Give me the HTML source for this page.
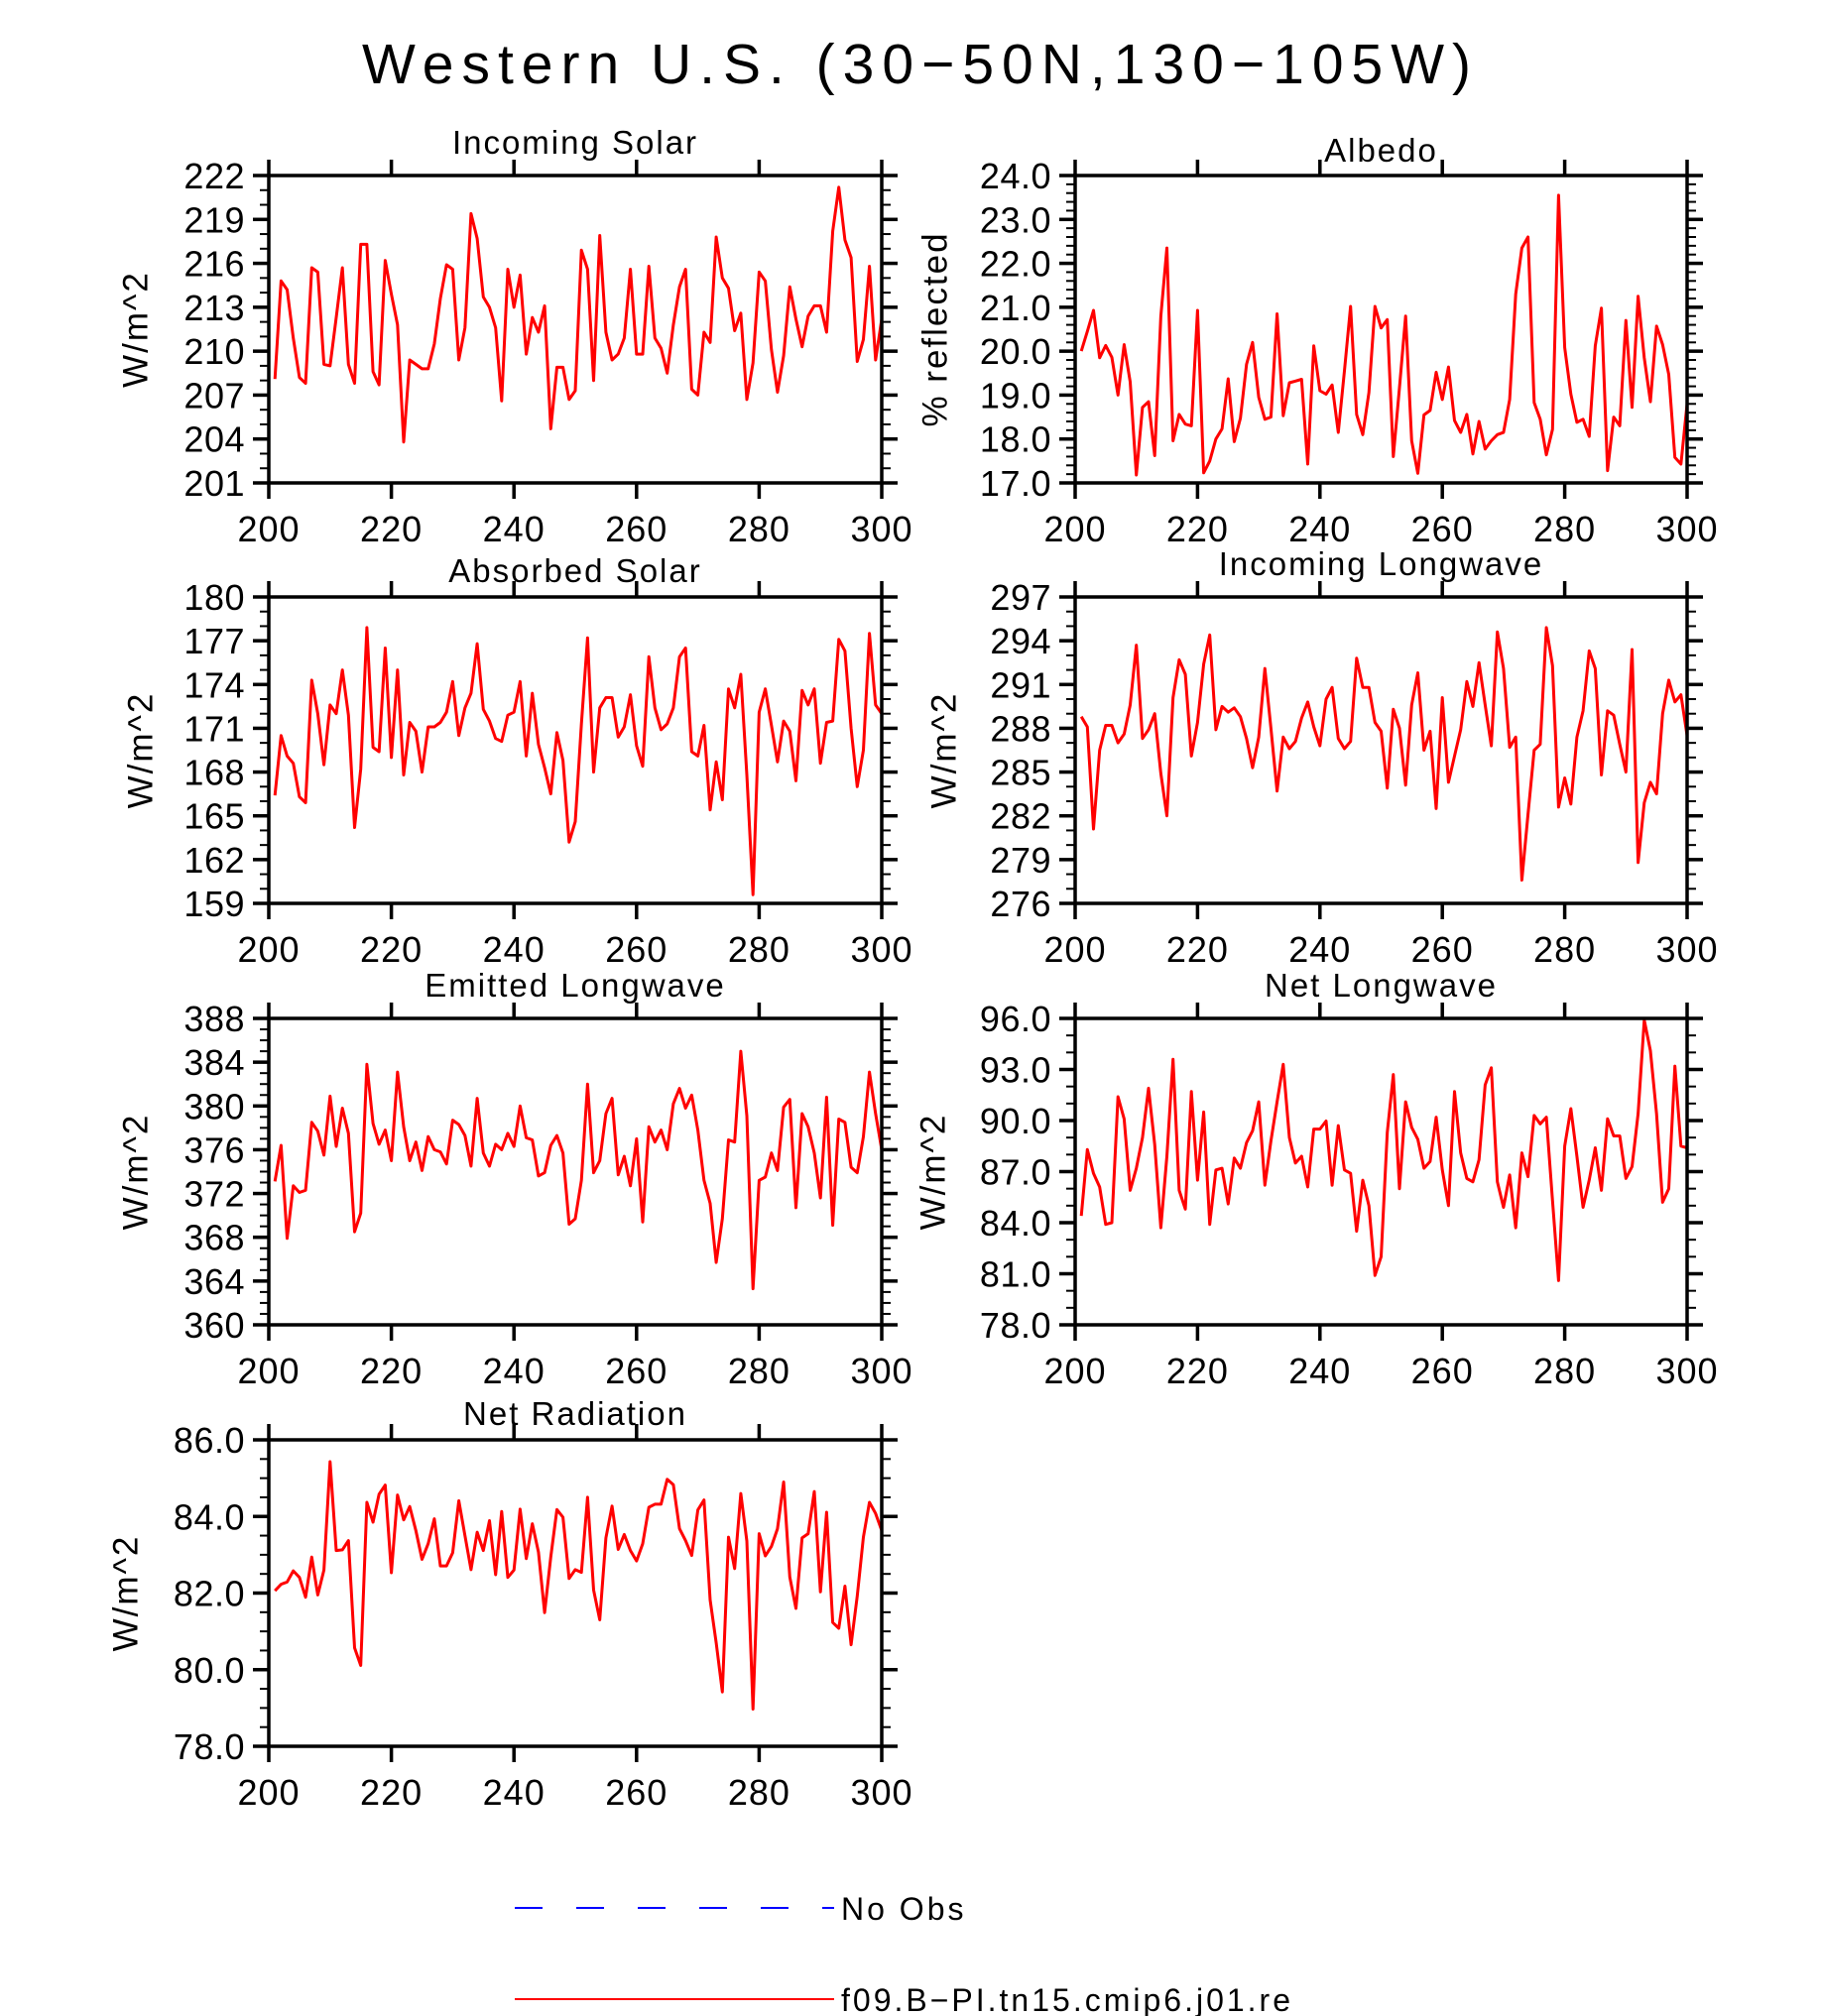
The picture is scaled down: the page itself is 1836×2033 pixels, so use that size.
<!DOCTYPE html>
<html><head><meta charset="utf-8"><style>
html,body{margin:0;padding:0;background:#fff;}
svg{display:block;}
text{font-family:"Liberation Sans",sans-serif;fill:#000;}
</style></head><body>
<svg id="chart" width="1836" height="2033" viewBox="0 0 1836 2033" xmlns="http://www.w3.org/2000/svg">
<text x="928" y="84" font-size="57" text-anchor="middle" letter-spacing="8">Western U.S. (30−50N,130−105W)</text>
<g>
<line x1="519" y1="1924" x2="841" y2="1924" stroke="#0000ff" stroke-width="2" stroke-dasharray="28,34"/>
<text x="848" y="1936" font-size="32" letter-spacing="3">No Obs</text>
<line x1="519" y1="2016" x2="841" y2="2016" stroke="#ff0000" stroke-width="2"/>
<text x="848" y="2028" font-size="32" letter-spacing="3">f09.B−PI.tn15.cmip6.j01.re</text>
</g>
</svg>
<script>
const incomingSolar=[208.1,214.8,214.2,210.9,208.2,207.8,215.7,215.4,209.1,209.0,212.3,215.7,209.1,207.8,217.3,217.3,208.6,207.7,216.2,213.9,211.8,203.8,209.4,209.1,208.8,208.8,210.5,213.6,215.9,215.6,209.4,211.6,219.4,217.7,213.7,213.0,211.6,206.6,215.6,213.0,215.2,209.8,212.3,211.3,213.1,204.7,208.9,208.9,206.7,207.3,216.9,215.6,208.0,217.9,211.3,209.4,209.8,210.9,215.6,209.8,209.8,215.8,210.9,210.2,208.5,211.8,214.4,215.6,207.4,207.0,211.3,210.6,217.8,215.0,214.3,211.4,212.6,206.7,209.2,215.4,214.8,210.1,207.2,209.7,214.4,212.2,210.3,212.4,213.1,213.1,211.3,218.2,221.2,217.6,216.4,209.3,210.8,215.8,209.4,212.2];
const albedo=[20.0,20.45,20.93,19.85,20.13,19.86,19.0,20.15,19.3,17.18,18.72,18.85,17.62,20.8,22.35,17.96,18.56,18.34,18.3,20.93,17.23,17.5,18.0,18.23,19.37,17.94,18.47,19.7,20.2,18.95,18.45,18.5,20.85,18.53,19.28,19.32,19.36,17.43,20.12,19.1,19.02,19.23,18.15,19.55,21.02,18.56,18.1,19.06,21.02,20.53,20.72,17.6,19.17,20.8,17.96,17.22,18.55,18.65,19.52,18.9,19.64,18.42,18.15,18.56,17.66,18.4,17.77,17.96,18.1,18.15,18.9,21.3,22.35,22.6,18.83,18.45,17.64,18.22,23.55,20.08,19.02,18.38,18.45,18.06,20.12,20.98,17.28,18.5,18.3,20.7,18.72,21.25,19.85,18.85,20.57,20.15,19.47,17.58,17.43,18.8];
const absorbedSolar=[166.4,170.5,169.1,168.6,166.3,165.9,174.3,172.0,168.5,172.6,172.0,175.0,171.9,164.2,168.2,177.9,169.7,169.4,176.5,169.0,175.0,167.8,171.4,170.8,168.0,171.1,171.1,171.4,172.1,174.2,170.5,172.4,173.4,176.8,172.3,171.5,170.3,170.1,171.9,172.1,174.2,169.1,173.4,169.9,168.3,166.5,170.7,168.8,163.2,164.6,171.3,177.2,168.0,172.4,173.1,173.1,170.4,171.1,173.3,169.8,168.4,175.9,172.4,170.9,171.3,172.4,175.9,176.5,169.4,169.1,171.2,165.4,168.7,166.1,173.7,172.4,174.7,167.8,159.6,172.1,173.7,171.2,168.7,171.5,170.8,167.4,173.6,172.6,173.7,168.6,171.4,171.5,177.1,176.3,171.0,167.0,169.5,177.5,172.6,172.0];
const incomingLongwave=[288.8,288.1,281.1,286.5,288.2,288.2,287.0,287.6,289.6,293.7,287.3,287.9,289.0,284.9,282.0,290.1,292.7,291.7,286.1,288.4,292.4,294.4,287.9,289.5,289.1,289.4,288.8,287.3,285.3,287.4,292.1,288.0,283.7,287.4,286.6,287.1,288.7,289.8,288.1,286.8,290.0,290.8,287.3,286.6,287.1,292.8,290.8,290.8,288.4,287.8,283.9,289.3,288.0,284.1,289.6,291.8,286.5,287.8,282.5,290.1,284.3,286.1,287.9,291.2,289.5,292.5,289.6,286.8,294.6,292.1,286.7,287.4,277.6,282.1,286.5,286.9,294.9,292.3,282.6,284.6,282.8,287.4,289.2,293.3,292.1,284.8,289.2,288.9,286.9,285.0,293.4,278.8,282.9,284.3,283.5,289.0,291.3,289.8,290.3,287.5];
const emittedLongwave=[373.1,376.4,367.9,372.7,372.1,372.3,378.5,377.7,375.5,380.9,376.3,379.8,377.5,368.5,370.2,383.8,378.4,376.5,377.8,375.0,383.1,378.1,375.0,376.7,374.1,377.2,376.0,375.8,374.7,378.7,378.3,377.3,374.5,380.7,375.7,374.5,376.5,376.0,377.5,376.3,380.0,377.1,376.9,373.6,373.9,376.4,377.3,375.7,369.2,369.7,373.2,382.0,373.9,375.0,379.3,380.7,373.7,375.4,372.7,377.0,369.4,378.1,376.7,377.8,376.0,380.2,381.6,379.8,381.0,377.8,373.2,371.1,365.7,369.7,376.9,376.7,385.0,379.1,363.3,373.2,373.5,375.7,374.1,379.9,380.6,370.7,379.3,378.1,375.7,371.6,380.8,369.1,378.8,378.5,374.4,373.9,377.2,383.1,379.3,376.0];
const netLongwave=[84.4,88.3,86.9,86.1,83.9,84.0,91.4,90.1,85.9,87.2,89.0,91.9,88.6,83.7,87.9,93.6,85.9,84.8,91.7,86.5,90.5,83.9,87.1,87.2,85.1,87.8,87.2,88.7,89.4,91.1,86.2,88.8,91.1,93.3,89.0,87.5,87.9,86.1,89.5,89.5,89.97,86.2,89.7,87.1,86.9,83.5,86.5,85.0,80.9,82.0,89.3,92.7,86.0,91.1,89.6,88.9,87.2,87.6,90.2,87.1,85.0,91.7,88.1,86.6,86.4,87.7,92.1,93.1,86.4,84.9,86.8,83.7,88.1,86.7,90.3,89.8,90.2,85.3,80.6,88.5,90.7,87.9,84.9,86.5,88.4,85.9,90.1,89.1,89.1,86.6,87.3,90.4,95.9,94.1,90.4,85.2,86.0,93.2,88.5,88.4];
const netRadiation=[82.06,82.23,82.29,82.58,82.41,81.89,82.94,81.95,82.6,85.43,83.11,83.13,83.37,80.57,80.11,84.37,83.85,84.58,84.82,82.53,84.56,83.91,84.26,83.63,82.88,83.29,83.94,82.71,82.71,83.05,84.41,83.5,82.61,83.59,83.11,83.89,82.48,84.13,82.41,82.6,84.19,82.9,83.81,83.07,81.49,82.94,84.18,83.98,82.38,82.61,82.54,84.5,82.08,81.3,83.44,84.27,83.14,83.53,83.11,82.84,83.29,84.24,84.32,84.32,84.97,84.83,83.68,83.37,82.98,84.17,84.43,81.82,80.7,79.42,83.46,82.64,84.6,83.36,78.97,83.55,82.97,83.22,83.68,84.9,82.42,81.6,83.44,83.55,84.65,82.03,84.11,81.23,81.08,82.18,80.65,81.92,83.46,84.37,84.08,83.63];
const xTickLabels=["200","220","240","260","280","300"];
const tickIncomingSolar=["201","204","207","210","213","216","219","222"];
const tickAlbedo=["17.0","18.0","19.0","20.0","21.0","22.0","23.0","24.0"];
const tickAbsorbed=["159","162","165","168","171","174","177","180"];
const tickIncomingLW=["276","279","282","285","288","291","294","297"];
const tickEmitted=["360","364","368","372","376","380","384","388"];
const tickNetLW=["78.0","81.0","84.0","87.0","90.0","93.0","96.0"];
const tickNetRad=["78.0","80.0","82.0","84.0","86.0"];
const years=[];for(let y=201;y<=300;y++)years.push(y);

const NS="http://www.w3.org/2000/svg";
const svg=document.getElementById('chart');
function mk(tag,attrs,parent){const e=document.createElementNS(NS,tag);for(const k in attrs)e.setAttribute(k,attrs[k]);(parent||svg).appendChild(e);return e;}

const LX=[271,889],RX=[1084,1701];
const panels=[
 {name:'incoming-solar',title:'Incoming Solar',yt:'W/m^2',xr:LX,yr:[177,487],ticks:tickIncomingSolar,minor:3,data:incomingSolar,ty:143,ytx:137},
 {name:'albedo',title:'Albedo',yt:'% reflected',xr:RX,yr:[177,487],ticks:tickAlbedo,minor:5,data:albedo,ty:151,ytx:943},
 {name:'absorbed-solar',title:'Absorbed Solar',yt:'W/m^2',xr:LX,yr:[602,911],ticks:tickAbsorbed,minor:3,data:absorbedSolar,ty:575,ytx:142},
 {name:'incoming-longwave',title:'Incoming Longwave',yt:'W/m^2',xr:RX,yr:[602,911],ticks:tickIncomingLW,minor:3,data:incomingLongwave,ty:568,ytx:952},
 {name:'emitted-longwave',title:'Emitted Longwave',yt:'W/m^2',xr:LX,yr:[1027,1336],ticks:tickEmitted,minor:4,data:emittedLongwave,ty:993,ytx:137},
 {name:'net-longwave',title:'Net Longwave',yt:'W/m^2',xr:RX,yr:[1027,1336],ticks:tickNetLW,minor:3,data:netLongwave,ty:993,ytx:941},
 {name:'net-radiation',title:'Net Radiation',yt:'W/m^2',xr:LX,yr:[1452,1761],ticks:tickNetRad,minor:4,data:netRadiation,ty:1425,ytx:127}
];

panels.forEach(p=>{
 const g=mk('g',{});
 
 
 const [x0,x1]=p.xr,[y0,y1]=p.yr;
 const tv=p.ticks.map(Number),vmin=tv[0],vmax=tv[tv.length-1];
 const xs=v=>x0+(v-200)/100*(x1-x0);
 const ys=v=>y1-(v-vmin)/(vmax-vmin)*(y1-y0);
 let d='';
 p.data.forEach((v,i)=>{d+=(i?'L':'M')+xs(years[i]).toFixed(1)+','+ys(v).toFixed(1);});
 const path=mk('path',{d:d,fill:'none',stroke:'#ff0000','stroke-width':3,'stroke-linejoin':'round'},g);
 
 
 const fr=mk('rect',{x:x0,y:y0,width:x1-x0,height:y1-y0,fill:'none',stroke:'#000','stroke-width':3.5},g);
 
 
 const step=(vmax-vmin)/(tv.length-1);
 for(let k=0;k<tv.length;k++){
  const y=ys(tv[k]);
  mk('line',{x1:x0-16,y1:y,x2:x0,y2:y,stroke:'#000','stroke-width':3.5},g);
  mk('line',{x1:x1,y1:y,x2:x1+16,y2:y,stroke:'#000','stroke-width':3.5},g);
  const t=mk('text',{x:x0-24,y:y+13,'font-size':36,'text-anchor':'end','letter-spacing':0.5},g);
  t.textContent=p.ticks[k];
  
  
  if(k<tv.length-1){for(let m=1;m<p.minor;m++){const ym=ys(tv[k]+step*m/p.minor);
   mk('line',{x1:x0-9,y1:ym,x2:x0,y2:ym,stroke:'#000','stroke-width':2},g);
   mk('line',{x1:x1,y1:ym,x2:x1+9,y2:ym,stroke:'#000','stroke-width':2},g);}}
 }
 xTickLabels.forEach(s=>{const x=xs(Number(s));
  mk('line',{x1:x,y1:y0-16,x2:x,y2:y0,stroke:'#000','stroke-width':3.5},g);
  mk('line',{x1:x,y1:y1,x2:x,y2:y1+16,stroke:'#000','stroke-width':3.5},g);
  const t=mk('text',{x:x,y:y1+59,'font-size':36,'text-anchor':'middle','letter-spacing':1},g);
  t.textContent=s;
  
  
 });
 const tt=mk('text',{x:(x0+x1)/2,y:p.ty+12,'font-size':33,'text-anchor':'middle','letter-spacing':2},g);
 tt.textContent=p.title;
 
 
 const cy=(y0+y1)/2;
 const yt=mk('text',{x:p.ytx,y:cy,'font-size':35,'text-anchor':'middle','dominant-baseline':'central','letter-spacing':2,transform:'rotate(-90 '+p.ytx+' '+cy+')'},g);
 yt.textContent=p.yt;
 
 
});
</script>
</body></html>
